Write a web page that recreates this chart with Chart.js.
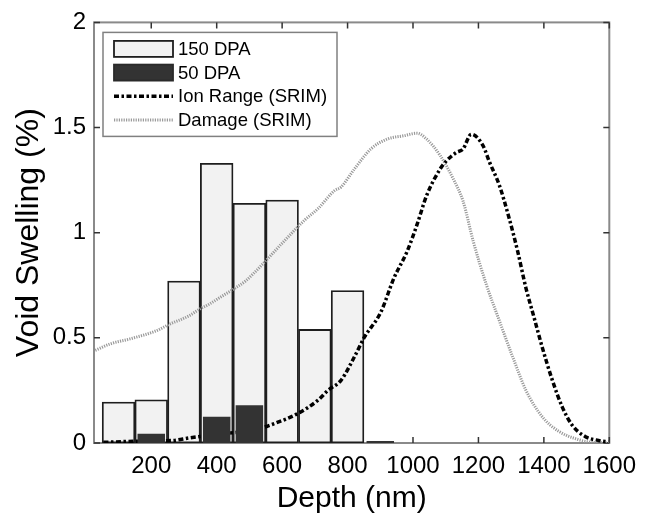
<!DOCTYPE html>
<html>
<head>
<meta charset="utf-8">
<script src="https://cdn.jsdelivr.net/npm/chart.js@4/dist/chart.umd.min.js"></script>
<style>
  html, body { margin: 0; padding: 0; background: #fff; }
</style>
</head>
<body>
<canvas id="chart" width="645" height="517"></canvas>
<script>
// bar data (nm bins, 100 nm wide)
const barDepth = [100, 200, 300, 400, 500, 600, 700, 800];
const swelling150 = [0.195, 0.205, 0.77, 1.33, 1.14, 1.155, 0.54, 0.725];
const depth50 = [200, 400, 500, 900];
const swelling50 = [0.044, 0.125, 0.18, 0.01];

// SRIM curves
const ionDepth = [54, 145, 266, 316, 417, 518, 579, 649, 710, 740, 780, 821, 851, 901, 942, 982, 1012, 1042, 1083, 1103, 1133, 1153, 1178, 1214, 1234, 1264, 1294, 1320, 1345, 1370, 1395, 1426, 1456, 1486, 1526, 1567, 1597];
const ionRange = [0.003, 0.008, 0.012, 0.024, 0.044, 0.063, 0.094, 0.141, 0.204, 0.25, 0.298, 0.41, 0.502, 0.62, 0.785, 0.911, 1.037, 1.178, 1.303, 1.343, 1.382, 1.398, 1.468, 1.414, 1.335, 1.225, 1.068, 0.911, 0.738, 0.597, 0.455, 0.298, 0.172, 0.086, 0.031, 0.012, 0.005];

const damageDepth = [29, 74, 135, 216, 256, 316, 347, 377, 417, 458, 488, 540, 600, 669, 710, 760, 780, 821, 871, 921, 972, 1012, 1042, 1083, 1123, 1153, 1184, 1224, 1264, 1305, 1345, 1395, 1446, 1506, 1546, 1600];
const damage = [0.44, 0.471, 0.495, 0.534, 0.565, 0.605, 0.636, 0.66, 0.699, 0.738, 0.77, 0.85, 0.95, 1.06, 1.115, 1.2, 1.217, 1.303, 1.398, 1.445, 1.461, 1.473, 1.445, 1.367, 1.256, 1.15, 0.96, 0.754, 0.581, 0.408, 0.251, 0.125, 0.055, 0.016, 0.003, 0.0];

const xTicks = [200, 400, 600, 800, 1000, 1200, 1400, 1600];
const yTicks = [0, 0.5, 1, 1.5, 2];

const pts = (xs, ys) => xs.map((x, i) => ({ x: x, y: ys[i] }));

Chart.defaults.font.family = '"Liberation Sans", Arial, sans-serif';
Chart.defaults.color = '#000';

// axes box + inward ticks, matlab style
const framePlugin = {
  id: 'frame',
  beforeDatasetsDraw(chart) {
    const { ctx, chartArea: a, scales: { x, y } } = chart;
    ctx.save();
    ctx.strokeStyle = '#8a8a8a';
    ctx.lineWidth = 2;
    ctx.strokeRect(a.left, a.top, a.width, a.height);
    ctx.strokeStyle = '#333';
    ctx.lineWidth = 1.5;
    ctx.beginPath();
    xTicks.forEach(v => {
      const px = x.getPixelForValue(v);
      ctx.moveTo(px, a.bottom); ctx.lineTo(px, a.bottom - 6);
      ctx.moveTo(px, a.top); ctx.lineTo(px, a.top + 6);
    });
    yTicks.forEach(v => {
      const py = y.getPixelForValue(v);
      ctx.moveTo(a.left, py); ctx.lineTo(a.left + 6, py);
      ctx.moveTo(a.right, py); ctx.lineTo(a.right - 6, py);
    });
    ctx.stroke();
    ctx.restore();
  }
};

// legend box in the upper left of the plot
const legendBox = {
  id: 'legendBox',
  afterDatasetsDraw(chart) {
    const { ctx, chartArea: a } = chart;
    const bx = a.left + 9, by = a.top + 10, bw = 234, bh = 104;
    ctx.save();
    ctx.fillStyle = '#fff';
    ctx.fillRect(bx, by, bw, bh);
    ctx.strokeStyle = '#808080';
    ctx.lineWidth = 1.5;
    ctx.strokeRect(bx, by, bw, bh);
    ctx.font = '18.5px "Liberation Sans", Arial, sans-serif';
    ctx.textBaseline = 'middle';
    chart.data.datasets.forEach((ds, i) => {
      const cy = by + 16.5 + i * 23.7;
      const sx = bx + 11, sw = 59;
      if (ds.type === 'line') {
        ctx.beginPath();
        ctx.setLineDash(ds.borderDash || []);
        ctx.lineWidth = ds.borderWidth;
        ctx.strokeStyle = ds.borderColor;
        ctx.moveTo(sx, cy);
        ctx.lineTo(sx + sw, cy);
        ctx.stroke();
        ctx.setLineDash([]);
      } else {
        ctx.fillStyle = ds.backgroundColor;
        ctx.fillRect(sx, cy - 8, sw, 16);
        ctx.strokeStyle = ds.borderColor;
        ctx.lineWidth = ds.borderWidth;
        ctx.strokeRect(sx, cy - 8, sw, 16);
      }
      ctx.fillStyle = '#000';
      ctx.fillText(ds.label, bx + 75, cy + 1);
    });
    ctx.restore();
  }
};

new Chart(document.getElementById('chart'), {
  type: 'bar',
  data: {
    datasets: [
      {
        label: '150 DPA',
        data: pts(barDepth, swelling150),
        backgroundColor: '#f2f2f2',
        borderColor: '#1e1e1e',
        borderWidth: 1.8,
        borderSkipped: false,
        grouped: false,
        barPercentage: 1,
        categoryPercentage: 1,
        order: 3
      },
      {
        label: '50 DPA',
        data: pts(depth50, swelling50),
        backgroundColor: '#333333',
        borderColor: '#2a2a2a',
        borderWidth: 0,
        grouped: false,
        barPercentage: 0.84,
        categoryPercentage: 1,
        order: 0
      },
      {
        type: 'line',
        label: 'Ion Range (SRIM)',
        data: pts(ionDepth, ionRange),
        borderColor: '#000',
        borderWidth: 3.5,
        borderDash: [5, 2.5, 2.5, 2.5],
        pointRadius: 0,
        cubicInterpolationMode: 'monotone',
        fill: false,
        order: 1
      },
      {
        type: 'line',
        label: 'Damage (SRIM)',
        data: pts(damageDepth, damage),
        borderColor: '#9a9a9a',
        borderWidth: 3,
        borderDash: [1.2, 1.2],
        pointRadius: 0,
        cubicInterpolationMode: 'monotone',
        fill: false,
        order: 2
      }
    ]
  },
  options: {
    responsive: false,
    animation: false,
    layout: { padding: { top: 19, right: 31, left: 0, bottom: 0 } },
    plugins: { legend: { display: false }, tooltip: { enabled: false } },
    scales: {
      x: {
        type: 'linear',
        min: 25,
        max: 1600,
        offset: false,
        grid: { display: false, drawTicks: false, tickLength: 0 },
        border: { display: false },
        afterBuildTicks: s => { s.ticks = xTicks.map(v => ({ value: v })); },
        afterFit: s => { s.height = 74; },
        ticks: { font: { size: 24 }, padding: 9, maxRotation: 0, autoSkip: false, callback: v => String(v) },
        title: { display: true, text: 'Depth (nm)', font: { size: 30 }, padding: { top: 1, bottom: 0 } }
      },
      y: {
        min: 0,
        max: 2,
        grid: { display: false, drawTicks: false, tickLength: 0 },
        border: { display: false },
        afterBuildTicks: s => { s.ticks = yTicks.map(v => ({ value: v })); },
        afterFit: s => { s.width = 94; },
        ticks: { font: { size: 24 }, padding: 8, callback: v => String(v) },
        title: { display: true, text: 'Void Swelling (%)', font: { size: 32 }, padding: { top: 10, bottom: 0 } }
      }
    }
  },
  plugins: [framePlugin, legendBox]
});
</script>
</body>
</html>
